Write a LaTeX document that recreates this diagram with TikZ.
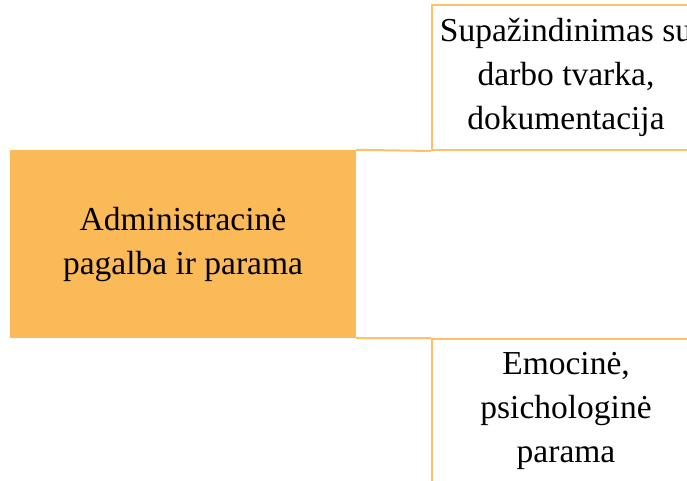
\documentclass[tikz,border=0pt]{standalone}
\usepackage{fontspec}
\setmainfont{Liberation Serif}
\definecolor{gold}{RGB}{251,186,88}
\definecolor{goldline}{RGB}{255,192,104}
\begin{document}
\begin{tikzpicture}[x=1pt,y=-1pt,
  txt/.style={align=center,font=\fontsize{33.5}{44}\selectfont,inner sep=0pt},
  outline/.style={draw=goldline,line width=2pt},
  link/.style={draw=goldline,line width=2pt}]
\useasboundingbox (0,0) rectangle (687,480);
\clip (0,0) rectangle (687,480);
\node[fill=gold,draw=none,minimum width=346pt,minimum height=188pt,inner sep=0pt] (main) at (183,244) {};
\node[txt] at (main.center) {Administracinė\\pagalba ir parama};
\node[outline,minimum width=268pt,minimum height=145pt,inner sep=0pt] (top) at (566,77.5) {};
\node[txt] at (top.center) {Supažindinimas su\\darbo tvarka,\\dokumentacija};
\node[outline,minimum width=268pt,minimum height=143pt,inner sep=0pt] (bot) at (566,410.5) {};
\node[txt] at (bot.center) {Emocinė,\\psichologinė\\parama};
\draw[link] (main.north east) -- (top.south west);
\draw[link] (main.south east) -- (bot.north west);
\end{tikzpicture}
\end{document}
